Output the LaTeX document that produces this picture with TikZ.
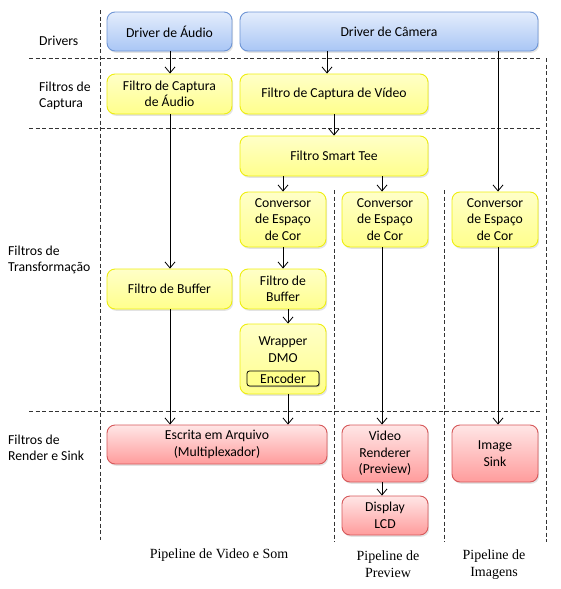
\documentclass[tikz,border=0pt]{standalone}
\usepackage{fontspec}
\setmainfont{Carlito}
\newfontfamily\tnr{Liberation Serif}
\usetikzlibrary{arrows.meta,shadows}
\definecolor{bluetop}{HTML}{E4EDFC}
\definecolor{bluebot}{HTML}{A9C6F5}
\definecolor{blueline}{HTML}{6E95D5}
\definecolor{yeltop}{HTML}{FFFFC8}
\definecolor{yelbot}{HTML}{FFFF8C}
\definecolor{yelline}{HTML}{EEEE10}
\definecolor{redtop}{HTML}{FFE6E6}
\definecolor{redbot}{HTML}{FF9C9C}
\definecolor{redline}{HTML}{D6585A}
\tikzset{
  boxtext/.style={align=center, inner sep=0pt, font=\fontsize{13.7}{16.5}\selectfont},
  box/.style={boxtext, rounded corners=8pt, line width=0.9pt,
    drop shadow={opacity=0.22, shadow xshift=1.2pt, shadow yshift=-1.8pt}},
  bbox/.style={box, draw=blueline, top color=bluetop, bottom color=bluebot},
  ybox/.style={box, draw=yelline, top color=yeltop, bottom color=yelbot},
  rbox/.style={box, draw=redline, top color=redtop, bottom color=redbot},
  arr/.style={line width=0.8pt, -{Straight Barb[length=6pt,width=10pt]}},
  sep/.style={line width=0.8pt, draw=black!80, dash pattern=on 4pt off 2.5pt},
  rowlab/.style={anchor=west, align=left, inner sep=0pt, font=\fontsize{13.7}{16.5}\selectfont},
  pipelab/.style={align=center, inner sep=0pt, font=\tnr\fontsize{14}{17}\selectfont}
}
\begin{document}
\begin{tikzpicture}[x=1pt,y=-1pt]
\useasboundingbox (0,0) rectangle (561,589);
% separators
\draw[sep] (100,10) -- (100,540);
\draw[sep] (29,58) -- (540,58);
\draw[sep] (29,128) -- (540,128);
\draw[sep] (29,411) -- (540,411);
\draw[sep] (546,58) -- (546,542);
\draw[sep] (334,190) -- (334,542);
\draw[sep] (444,190) -- (444,542);
% row labels
\node[rowlab] (l1) at (39,41) {Drivers};
\node[rowlab] (l2) at (39,96) {Filtros de\\Captura};
\node[rowlab] (l3) at (8,260) {Filtros de\\Transformação};
\node[rowlab] (l4) at (8,448) {Filtros de\\Render e Sink};
% boxes
\node[bbox, minimum width=125pt, minimum height=39pt] (aud) at (169.5,31.5) {Driver de Áudio};
\node[bbox, minimum width=298pt, minimum height=39pt] (cam) at (389,31.5) {Driver de Câmera};
\node[ybox, minimum width=125pt, minimum height=40pt] (capA) at (169.5,94) {Filtro de Captura\\de Áudio};
\node[ybox, minimum width=188pt, minimum height=40pt] (capV) at (334,94) {Filtro de Captura de Vídeo};
\node[ybox, minimum width=188pt, minimum height=40pt] (tee) at (334,156) {Filtro Smart Tee};
\node[ybox, minimum width=86pt, minimum height=55pt] (conv1) at (283,219.5) {Conversor\\de Espaço\\de Cor};
\node[ybox, minimum width=86pt, minimum height=55pt] (conv2) at (385,219.5) {Conversor\\de Espaço\\de Cor};
\node[ybox, minimum width=86pt, minimum height=55pt] (conv3) at (495,219.5) {Conversor\\de Espaço\\de Cor};
\node[ybox, minimum width=125pt, minimum height=40pt] (bufA) at (169.5,289) {Filtro de Buffer};
\node[ybox, minimum width=86pt, minimum height=40pt] (bufV) at (283,289) {Filtro de\\Buffer};
\node[ybox, minimum width=86pt, minimum height=70pt] (wrap) at (283,359) {};
\node[boxtext] (wraptxt) at (283,349.5) {Wrapper\\DMO};
\node[draw=black, line width=0.8pt, fill=yelbot, rounded corners=2.5pt, minimum width=72pt, minimum height=15pt, boxtext,
  drop shadow={opacity=0.5, shadow xshift=1pt, shadow yshift=-1pt}] (enc) at (283,378.5) {Encoder};
\node[rbox, minimum width=220pt, minimum height=39pt] (esc) at (217,444.5) {Escrita em Arquivo\\(Multiplexador)};
\node[rbox, minimum width=86pt, minimum height=57pt] (vr) at (385,453.5) {Video\\Renderer\\(Preview)};
\node[rbox, minimum width=86pt, minimum height=39pt] (lcd) at (385,515.5) {Display\\LCD};
\node[rbox, minimum width=86pt, minimum height=57pt] (sink) at (495,453.5) {Image\\Sink};
% pipeline labels
\node[pipelab] (p1) at (219,555) {Pipeline de Video e Som};
\node[pipelab] (p2) at (388,564.5) {Pipeline de\\Preview};
\node[pipelab] (p3) at (494,564.5) {Pipeline de\\Imagens};
% x guides
\coordinate (x170) at (170,0);
\coordinate (x327) at (327,0);
\coordinate (x334) at (334,0);
\coordinate (x283) at (283,0);
\coordinate (x288) at (288,0);
\coordinate (x382) at (382,0);
\coordinate (x498) at (498,0);
% connectors
\draw[arr] (aud.south -| x170) -- (capA.north -| x170);
\draw[arr] (cam.south -| x327) -- (capV.north -| x327);
\draw[arr] (cam.south -| x498) -- (conv3.north -| x498);
\draw[arr] (capV.south -| x334) -- (tee.north -| x334);
\draw[arr] (capA.south -| x170) -- (bufA.north -| x170);
\draw[arr] (tee.south -| x283) -- (conv1.north -| x283);
\draw[arr] (tee.south -| x382) -- (conv2.north -| x382);
\draw[arr] (conv1.south -| x283) -- (bufV.north -| x283);
\draw[arr] (bufV.south -| x288) -- (wrap.north -| x288);
\draw[arr] (wrap.south -| x288) -- (esc.north -| x288);
\draw[arr] (bufA.south -| x170) -- (esc.north -| x170);
\draw[arr] (conv2.south -| x382) -- (vr.north -| x382);
\draw[arr] (conv3.south -| x498) -- (sink.north -| x498);
\draw[arr] (vr.south -| x382) -- (lcd.north -| x382);
\end{tikzpicture}
\end{document}
